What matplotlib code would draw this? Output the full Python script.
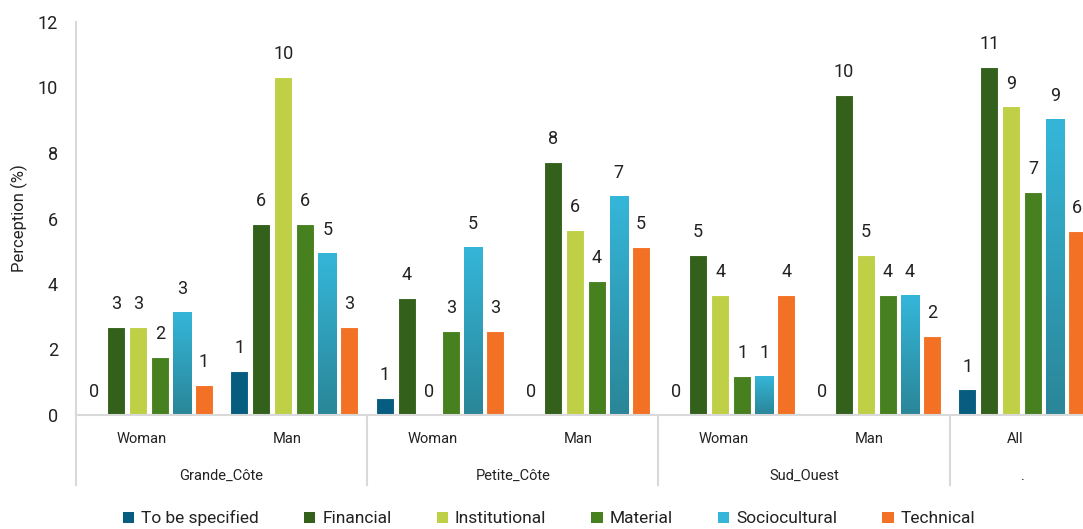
import numpy as np
import matplotlib
matplotlib.use("Agg")
import matplotlib.pyplot as plt
from matplotlib.colors import LinearSegmentedColormap
from matplotlib.patches import Patch
import matplotlib.transforms as mtransforms

regions = ["Grande_Côte", "Petite_Côte", "Sud_Ouest", "."]
region_span = [2, 2, 2, 1]
subgroups = ["Woman", "Man", "Woman", "Man", "Woman", "Man", "All"]
series = ["To be specified", "Financial", "Institutional", "Material", "Sociocultural", "Technical"]
colors = ["#065d80", "#33601a", "#bfcf46", "#47801e", "#35b5d8", "#f37125"]

to_be_specified = [0, 1.34, 0.51, 0, 0, 0, 0.78]
financial = [2.69, 5.83, 3.58, 7.72, 4.89, 9.78, 10.64]
institutional = [2.69, 10.33, 0, 5.65, 3.66, 4.89, 9.42]
material = [1.77, 5.83, 2.57, 4.09, 1.2, 3.66, 6.8]
sociocultural = [3.15, 4.96, 5.13, 6.68, 1.2, 3.66, 9.03]
technical = [0.92, 2.69, 2.57, 5.13, 3.66, 2.41, 5.62]
values = [to_be_specified, financial, institutional, material, sociocultural, technical]

plt.rcParams['font.family'] = ['Roboto', 'DejaVu Sans']
txt = "#222222"
grid_c = "#d9d9d9"

fig = plt.figure(figsize=(10.83, 5.29), dpi=100)
W, H = 1083, 529
ax = fig.add_axes([76 / W, (H - 415) / H, 1 - 76 / W, (415 - 22) / H])

x = np.arange(len(subgroups))
step = 0.151
width = 0.124
socio_cmap = LinearSegmentedColormap.from_list("socio", ["#2a8698", "#35b6d9"])

for i, (name, vals, c) in enumerate(zip(series, values, colors)):
    pos = x + (i - 2.5) * step
    bars = ax.bar(pos, vals, width, color=c, edgecolor="white", linewidth=0.8, zorder=2)
    if name == "Sociocultural":
        for b in bars:
            h = b.get_height()
            if h <= 0:
                continue
            grad = np.linspace(0, 1, 100).reshape(-1, 1)
            im = ax.imshow(grad, cmap=socio_cmap, aspect="auto", origin="lower",
                           extent=[b.get_x(), b.get_x() + b.get_width(), 0, h], zorder=2.5)
            im.set_clip_path(b)
    ax.bar_label(bars, labels=["%.0f" % v for v in vals], padding=10,
                 fontsize=13, color=txt, zorder=4)

ax.set_xlim(-0.5, -0.5 + (W - 76) / 145.6)
ax.set_ylim(0, 12)
ax.set_yticks(range(0, 13, 2))
ax.tick_params(axis="y", length=0, pad=13, labelsize=13, labelcolor=txt)
ax.tick_params(axis="x", length=0, labelbottom=False)
for s in ["top", "right"]:
    ax.spines[s].set_visible(False)
ax.spines["left"].set_color(grid_c)
ax.spines["bottom"].set_color(grid_c)
ax.spines["left"].set_linewidth(1.5)
ax.spines["bottom"].set_linewidth(1.5)

ax.set_ylabel("Perception (%)", fontsize=12, color=txt)
ax.yaxis.set_label_coords(-0.048, 0.5)

trans = mtransforms.blended_transform_factory(ax.transData, ax.transAxes)
low = -70 / 393
for xb in [-0.5, 1.5, 3.5, 5.5]:
    ax.plot([xb, xb], [0, low], transform=trans, color=grid_c, lw=1.5, clip_on=False)

for xi, lab in zip(x, subgroups):
    ax.text(xi - 0.05, -24 / 393, lab, transform=trans, ha="center", va="center",
            fontsize=10.5, color=txt)

start = 0
for reg, span in zip(regions, region_span):
    c = start + (span - 1) / 2
    ax.text(c, -61 / 393, reg, transform=trans, ha="center", va="center",
            fontsize=10.5, color=txt)
    start += span

handles = [Patch(facecolor=c, edgecolor="none") for c in colors]
fig.legend(handles, series, loc="center", bbox_to_anchor=(0.507, 0.02), ncol=6,
           frameon=False, fontsize=12.5, handlelength=0.65, handleheight=0.65,
           handletextpad=0.4, columnspacing=2.6, labelcolor=txt)

fig.savefig("out.png", dpi=100)
